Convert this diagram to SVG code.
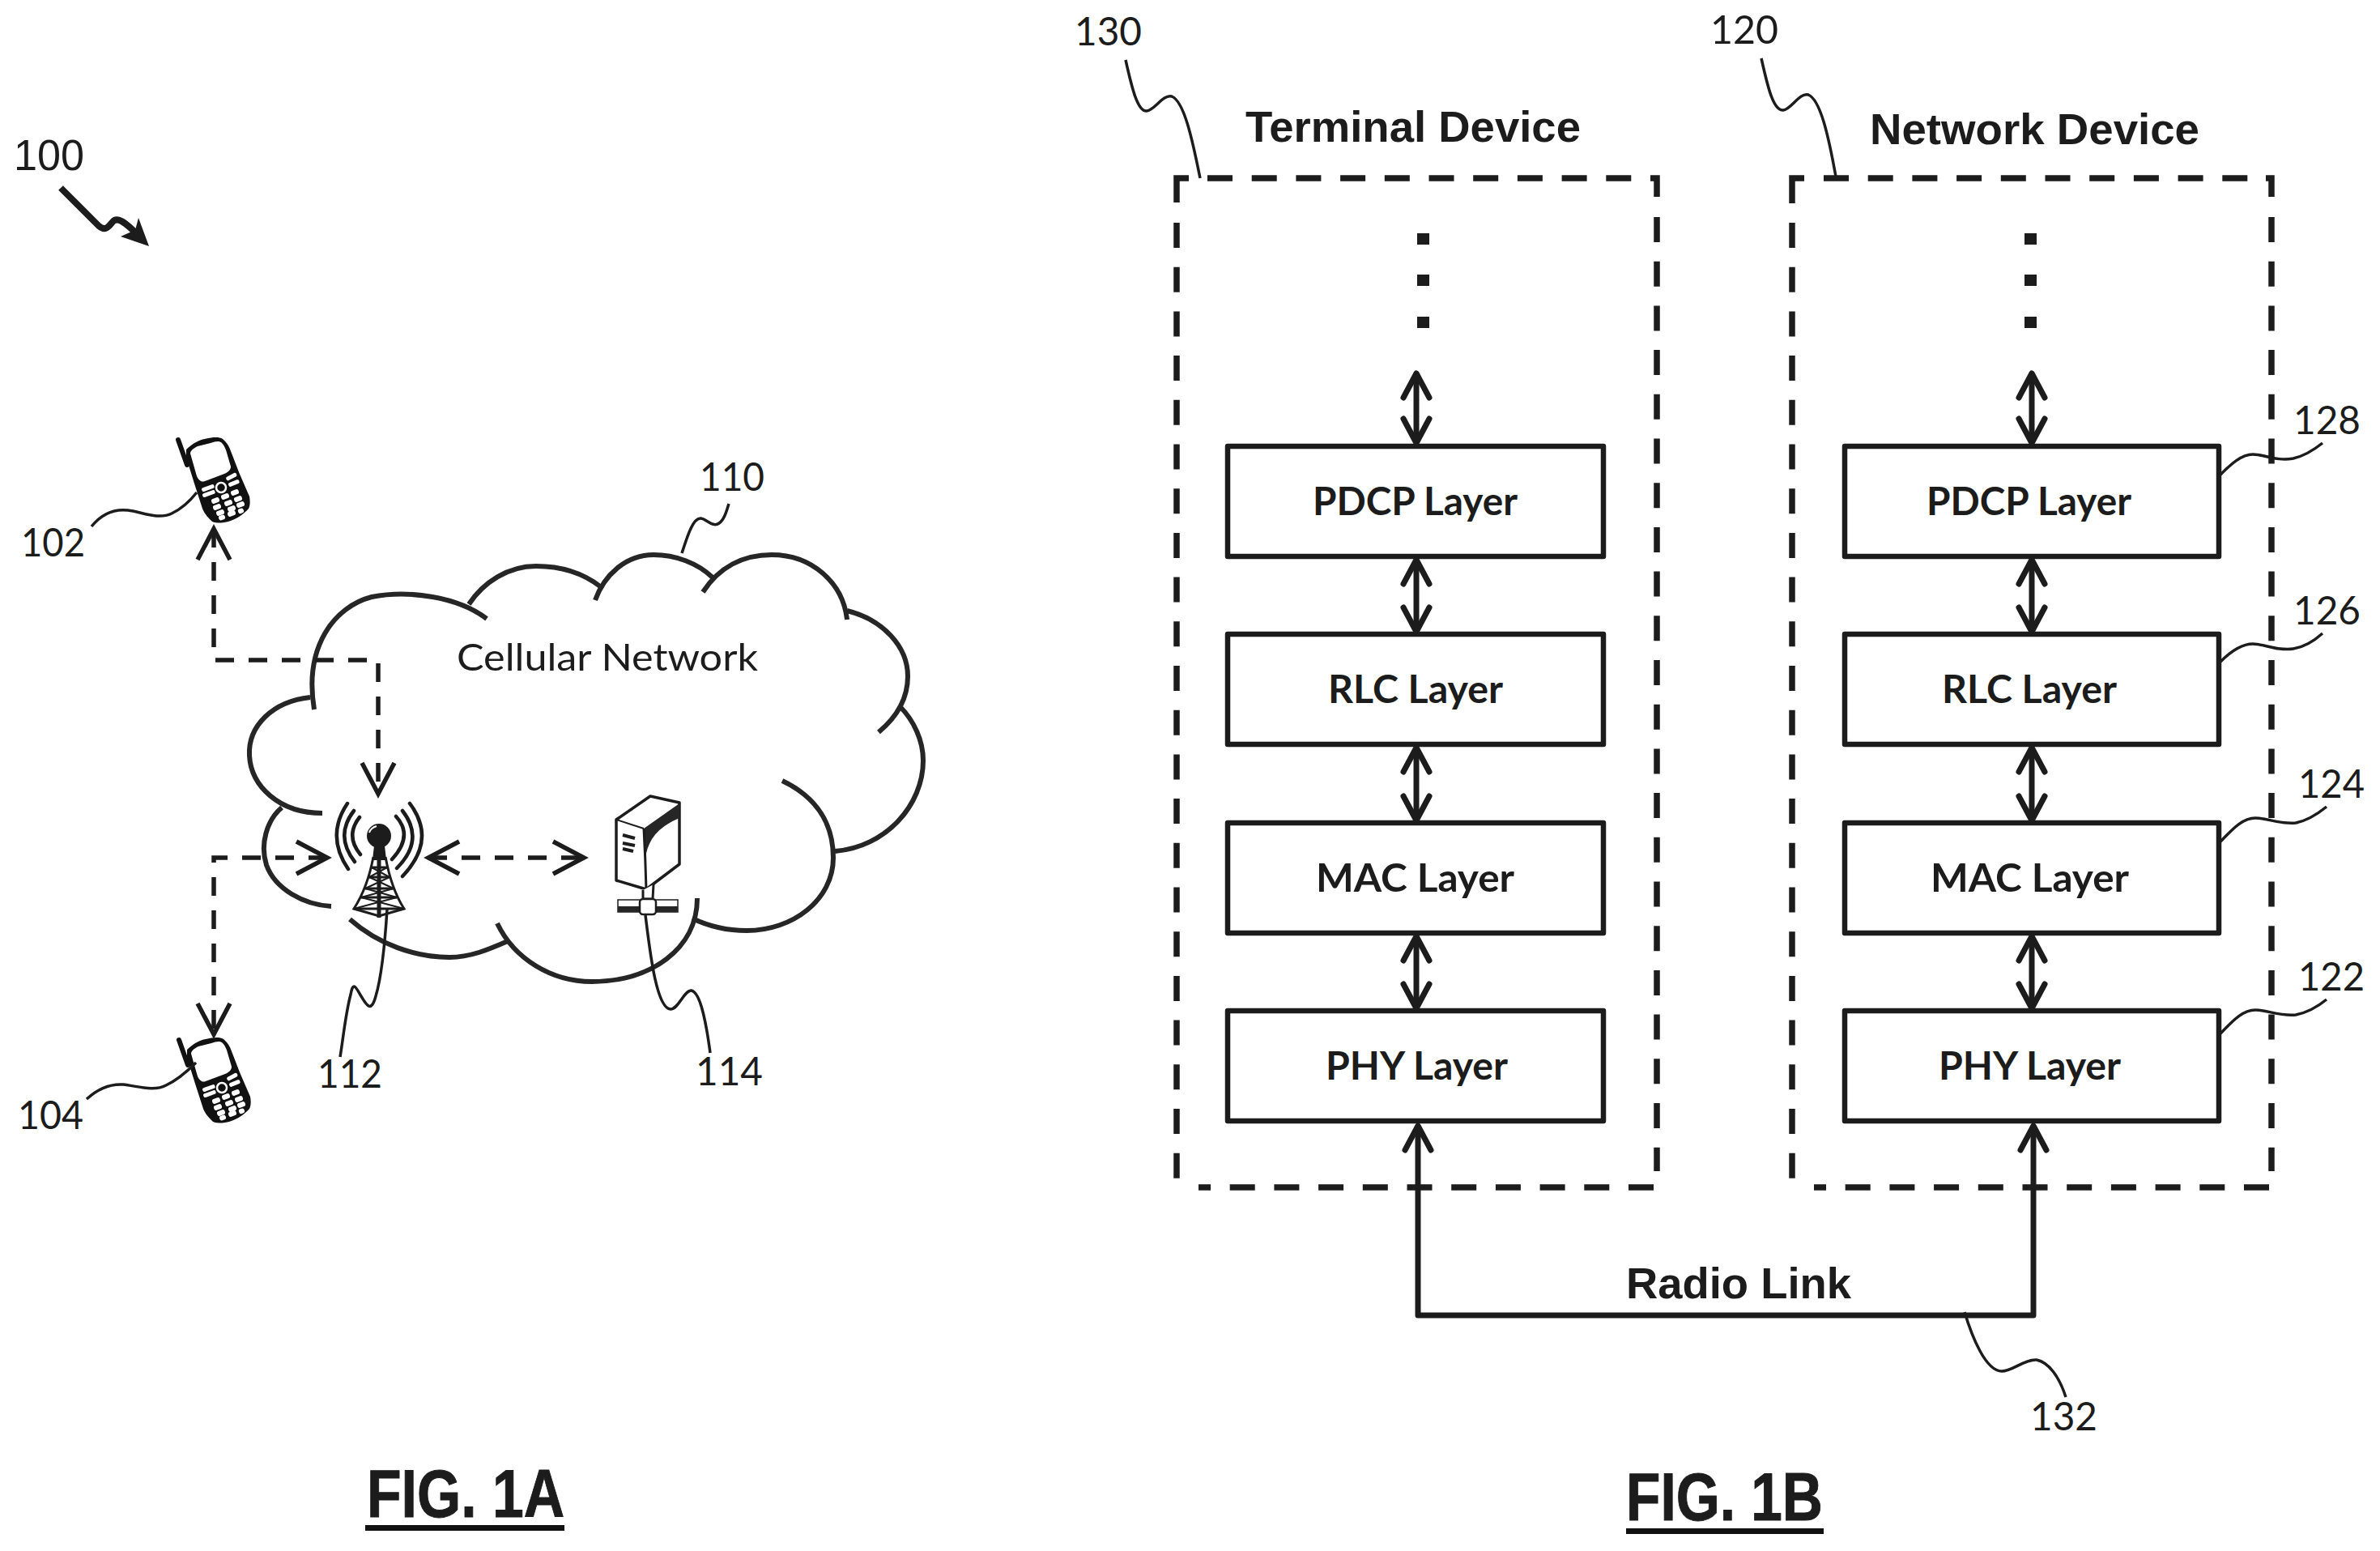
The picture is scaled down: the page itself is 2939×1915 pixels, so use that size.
<svg xmlns="http://www.w3.org/2000/svg" xmlns:xlink="http://www.w3.org/1999/xlink" width="2939" height="1915" viewBox="0 0 2939 1915">
<style>
text{fill:#1c1c1c}
.num{font-family:Lato,"Noto Sans",sans-serif;font-size:48px}
.net{font-family:Lato,"Noto Sans",sans-serif;font-size:46px}
.lay{font-family:Lato,"Noto Sans",sans-serif;font-weight:700;font-size:47px}
.head{font-family:"Liberation Sans",Arial,sans-serif;font-weight:700;font-size:53px}
.fig{font-family:"Liberation Sans",Arial,sans-serif;font-weight:700;font-size:84px;stroke:#1c1c1c;stroke-width:1}
.ln{fill:none;stroke:#1c1c1c;stroke-linejoin:round}
.cloud{fill:none;stroke:#262626;stroke-width:6}
.leader{fill:none;stroke:#1c1c1c;stroke-width:3.5}
.frame{fill:none;stroke:#1c1c1c;stroke-width:7.5}
.fd{stroke-dasharray:31 23.7}
.box{fill:none;stroke:#1c1c1c;stroke-width:6.5;stroke-linejoin:round}
.dot{fill:#1c1c1c}
.dar{fill:none;stroke:#1c1c1c;stroke-width:5.5;stroke-dasharray:23 18}
.sar{fill:none;stroke:#1c1c1c;stroke-width:7;marker-start:url(#bh);marker-end:url(#bh)}
.wk{fill:#fff}
</style>
<defs>
<marker id="bh" markerUnits="userSpaceOnUse" viewBox="-36 -22 42 44" refX="0" refY="0" markerWidth="42" markerHeight="44" orient="auto-start-reverse"><path d="M-30 -16L0 0L-30 16" fill="none" stroke="#1c1c1c" stroke-width="7" stroke-linecap="round" stroke-linejoin="round"/></marker>
<marker id="dh" markerUnits="userSpaceOnUse" viewBox="-44 -26 50 52" refX="0" refY="0" markerWidth="50" markerHeight="52" orient="auto-start-reverse"><path d="M-38 -20L0 0L-38 20" fill="none" stroke="#1c1c1c" stroke-width="5.5" stroke-linejoin="miter"/></marker>
<g id="phone-shape">
<path d="M220 543L231 574" fill="none" stroke="#111" stroke-width="6" stroke-linecap="round"/>
<path d="M230 555C237 548 246 543 253 542C262 540 270 539 275 542C280 546 283 551 285 557L295 583L308 613C309 619 309 624 307 628C300 636 287 644 277 645C269 646 263 646 260 642C255 637 252 633 250 628L240 597L230 565Z" fill="#111"/>
<path d="M235 560C235 556 240 553 244 551L260 547C266 545 271 544 274 547C277 550 279 555 280 559L285 576C285 580 282 583 277 585L253 594C248 596 245 592 243 588Z" fill="#fff"/>
<g class="wk">
<rect x="249" y="600" width="16" height="5" rx="2" transform="rotate(-20 257 603)"/>
<rect x="250" y="607" width="16" height="5" rx="2" transform="rotate(-20 258 610)"/>
<rect x="279" y="586" width="14" height="5" rx="2" transform="rotate(-28 286 589)"/>
<rect x="282" y="594" width="14" height="5" rx="2" transform="rotate(-22 289 597)"/>
<rect x="261" y="615" width="10" height="6" rx="2.5" transform="rotate(-20 266 618)"/>
<rect x="273" y="610" width="10" height="6" rx="2.5" transform="rotate(-20 278 613)"/>
<rect x="285" y="605" width="10" height="6" rx="2.5" transform="rotate(-20 290 608)"/>
<rect x="263" y="623" width="10" height="6" rx="2.5" transform="rotate(-20 268 626)"/>
<rect x="277" y="618" width="10" height="6" rx="2.5" transform="rotate(-20 282 621)"/>
<rect x="289" y="613" width="10" height="6" rx="2.5" transform="rotate(-20 294 616)"/>
<rect x="267" y="630" width="10" height="6" rx="2.5" transform="rotate(-20 272 633)"/>
<rect x="281" y="625" width="10" height="6" rx="2.5" transform="rotate(-20 286 628)"/>
<rect x="292" y="620" width="10" height="6" rx="2.5" transform="rotate(-20 297 623)"/>
<rect x="270" y="636" width="8" height="6" rx="2.5" transform="rotate(-20 274 639)"/>
<rect x="281" y="631" width="10" height="6" rx="2.5" transform="rotate(-20 286 634)"/>
<rect x="294" y="628" width="7" height="6" rx="2.5" transform="rotate(-20 297 631)"/>
</g>
<circle cx="273" cy="602" r="6" fill="#111" stroke="#fff" stroke-width="2.5"/>
</g>
</defs>
<rect width="2939" height="1915" fill="#fff"/>

<g id="ref-100">
<text x="17" y="210" font-family="'Liberation Sans',Arial,sans-serif" font-size="54" textLength="87" lengthAdjust="spacingAndGlyphs">100</text>
<path d="M75 232L122 279C130 286 134 280 139 274C144 268 152 271 174 294" class="ln" stroke-width="8"/>
<path d="M184 304L171 269L167 284L149 292Z" fill="#1c1c1c"/>
</g>

<g id="cloud-110">
<path class="cloud" d="M601 764C566 737 505 728 459 737C413 749 375 798 388 876"/>
<path class="cloud" d="M383 861C337 866 306 896 308 933C310 970 344 1004 398 1004"/>
<path class="cloud" d="M348 997C329 1013 321 1043 329 1068C340 1098 375 1117 409 1119"/>
<path class="cloud" d="M432 1135C467 1166 513 1182 555 1182C581 1182 604 1172 627 1162"/>
<path class="cloud" d="M614 1140C635 1184 681 1212 731 1212C803 1212 861 1172 861 1109"/>
<path class="cloud" d="M966 964C1010 985 1029 1019 1029 1059C1029 1111 979 1149 922 1149C899 1149 876 1144 855 1134"/>
<path class="cloud" d="M1031 1051C1094 1046 1140 994 1140 939C1140 915 1129 890 1111 872"/>
<path class="cloud" d="M1085 904C1109 884 1121 860 1121 835C1121 798 1090 765 1046 754"/>
<path class="cloud" d="M1046 765C1041 719 1002 685 953 685C918 685 888 700 868 731"/>
<path class="cloud" d="M880 713C861 695 834 685 807 685C773 685 746 710 735 741"/>
<path class="cloud" d="M741 724C719 707 692 699 662 699C627 699 597 719 579 746"/>
<text class="net" x="564" y="828" textLength="372" lengthAdjust="spacingAndGlyphs">Cellular Network</text>
<text class="num" x="864" y="606" textLength="80" lengthAdjust="spacingAndGlyphs">110</text>
</g>

<g id="phone-102">
<use xlink:href="#phone-shape" href="#phone-shape"/>
<text class="num" x="26" y="687" textLength="79" lengthAdjust="spacingAndGlyphs">102</text>
</g>
<g id="phone-104">
<use xlink:href="#phone-shape" href="#phone-shape" transform="translate(1 741)"/>
<text class="num" x="22" y="1394" textLength="81" lengthAdjust="spacingAndGlyphs">104</text>
</g>

<g id="tower-112">
<g fill="none" stroke="#1c1c1c" stroke-width="4.5" stroke-linecap="round">
<path d="M429 992Q402 1032 430 1073"/>
<path d="M437 1001Q413 1032 438 1064"/>
<path d="M444 1009Q426 1032 445 1055"/>
<path d="M506 992Q540 1037 497 1082"/>
<path d="M497 1001Q525 1037 490 1072"/>
<path d="M489 1008Q511 1032 484 1061"/>
</g>
<circle cx="468" cy="1032" r="15" fill="#1c1c1c"/>
<path d="M456 1028Q458 1022 465 1020" fill="none" stroke="#fff" stroke-width="2"/>
<path d="M462 1044H475L477 1062H460Z" fill="#1c1c1c"/>
<g fill="none" stroke="#1c1c1c" stroke-width="3">
<path d="M461 1058C456 1085 448 1105 437 1122L468 1131L499 1122C488 1105 481 1085 476 1058"/>
<path d="M468 1048V1133" stroke-width="5"/>
<path d="M458 1071L478 1071M456 1083L481 1083M451 1097L486 1097M446 1108L490 1108M437 1122L499 1122" stroke-width="3"/>
<path d="M459 1071L481 1083M478 1071L456 1083M456 1083L486 1097M481 1083L451 1097M451 1097L490 1108M486 1097L446 1108M446 1108L499 1122M490 1108L437 1122" stroke-width="2"/>
</g>
<text class="num" x="392" y="1343" textLength="80" lengthAdjust="spacingAndGlyphs">112</text>
</g>

<g id="server-114">
<path d="M761 1012L803 983L839 991V1067L798 1098L761 1087Z" fill="#fff" stroke="#1c1c1c" stroke-width="3.5" stroke-linejoin="round"/>
<path d="M795 1023L839 992V1010Q815 1020 805 1036Q798 1048 797 1060Z" fill="#262626"/>
<path d="M795 1023Q797 1060 798 1098" fill="none" stroke="#1c1c1c" stroke-width="3"/>
<path d="M761 1012L795 1023" fill="none" stroke="#1c1c1c" stroke-width="2"/>
<path d="M769 1031L784 1035M769 1041L784 1044M769 1048L782 1051" fill="none" stroke="#1c1c1c" stroke-width="4"/>
<path d="M794 1099V1110H806L807 1092" fill="#fff" stroke="#1c1c1c" stroke-width="3"/>
<rect x="763" y="1111" width="74" height="15" fill="#fff" stroke="#1c1c1c" stroke-width="1.5"/>
<rect x="763" y="1119" width="74" height="7" fill="#262626"/>
<rect x="790" y="1110" width="20" height="19" rx="4" fill="#fff" stroke="#1c1c1c" stroke-width="2.5"/>
<text class="num" x="859" y="1340" textLength="83" lengthAdjust="spacingAndGlyphs">114</text>
</g>

<g id="terminal-130">
<path class="frame" d="M1453 250V220H1468"/>
<path class="frame fd" d="M1491 220H2020"/>
<path class="frame" d="M2038 220H2046V243"/>
<path class="frame fd" d="M2046 268V1446"/>
<path class="frame fd" d="M1453 275V1466H1465"/>
<path class="frame fd" d="M2042 1466H1480"/>
<rect class="dot" x="1750" y="288" width="15" height="14"/>
<rect class="dot" x="1750" y="339" width="15" height="14"/>
<rect class="dot" x="1750" y="391" width="15" height="14"/>
<text class="head" x="1538" y="175" textLength="414" lengthAdjust="spacingAndGlyphs">Terminal Device</text>
<text class="num" x="1327" y="56" textLength="83" lengthAdjust="spacingAndGlyphs">130</text>
<g id="t-pdcp"><rect class="box" x="1516" y="551" width="464" height="136"/><text class="lay" x="1621" y="636" textLength="253" lengthAdjust="spacingAndGlyphs">PDCP Layer</text></g>
<g id="t-rlc"><rect class="box" x="1516" y="783" width="464" height="136"/><text class="lay" x="1640" y="868" textLength="216" lengthAdjust="spacingAndGlyphs">RLC Layer</text></g>
<g id="t-mac"><rect class="box" x="1516" y="1016" width="464" height="136"/><text class="lay" x="1625" y="1101" textLength="245" lengthAdjust="spacingAndGlyphs">MAC Layer</text></g>
<g id="t-phy"><rect class="box" x="1516" y="1248" width="464" height="136"/><text class="lay" x="1637" y="1333" textLength="225" lengthAdjust="spacingAndGlyphs">PHY Layer</text></g>
</g>

<g id="network-120">
<path class="frame" d="M2213 251V220H2228"/>
<path class="frame fd" d="M2252 220H2780"/>
<path class="frame" d="M2798 220H2805V243"/>
<path class="frame fd" d="M2805 268V1446"/>
<path class="frame fd" d="M2213 275V1466H2225"/>
<path class="frame fd" d="M2802 1466H2240"/>
<rect class="dot" x="2500" y="288" width="15" height="14"/>
<rect class="dot" x="2500" y="339" width="15" height="14"/>
<rect class="dot" x="2500" y="391" width="15" height="14"/>
<text class="head" x="2309" y="178" textLength="407" lengthAdjust="spacingAndGlyphs">Network Device</text>
<text class="num" x="2112" y="54" textLength="84" lengthAdjust="spacingAndGlyphs">120</text>
<g id="n-pdcp"><rect class="box" x="2278" y="551" width="462" height="136"/><text class="lay" x="2379" y="636" textLength="253" lengthAdjust="spacingAndGlyphs">PDCP Layer</text></g>
<g id="n-rlc"><rect class="box" x="2278" y="783" width="462" height="136"/><text class="lay" x="2398" y="868" textLength="216" lengthAdjust="spacingAndGlyphs">RLC Layer</text></g>
<g id="n-mac"><rect class="box" x="2278" y="1016" width="462" height="136"/><text class="lay" x="2384" y="1101" textLength="245" lengthAdjust="spacingAndGlyphs">MAC Layer</text></g>
<g id="n-phy"><rect class="box" x="2278" y="1248" width="462" height="136"/><text class="lay" x="2394" y="1333" textLength="225" lengthAdjust="spacingAndGlyphs">PHY Layer</text></g>
<text class="num" x="2832" y="536" textLength="83" lengthAdjust="spacingAndGlyphs">128</text>
<text class="num" x="2832" y="771" textLength="83" lengthAdjust="spacingAndGlyphs">126</text>
<text class="num" x="2838" y="985" textLength="82" lengthAdjust="spacingAndGlyphs">124</text>
<text class="num" x="2838" y="1223" textLength="82" lengthAdjust="spacingAndGlyphs">122</text>
</g>

<g id="connectors">
<path class="dar" d="M264 653V815H467V980" marker-start="url(#dh)" marker-end="url(#dh)"/>
<path class="dar" d="M404 1059H264V1277" marker-start="url(#dh)" marker-end="url(#dh)"/>
<path class="dar" d="M529 1059H721" marker-start="url(#dh)" marker-end="url(#dh)"/>
<path class="sar" d="M1749 461V547"/>
<path class="sar" d="M1749 691V780"/>
<path class="sar" d="M1749 923V1013"/>
<path class="sar" d="M1749 1156V1245"/>
<path class="sar" d="M2509 461V547"/>
<path class="sar" d="M2509 691V780"/>
<path class="sar" d="M2509 923V1013"/>
<path class="sar" d="M2509 1156V1245"/>
<path id="radio-link" d="M1751 1390V1624H2511V1390" fill="none" stroke="#1c1c1c" stroke-width="7" stroke-linejoin="round" marker-start="url(#bh)" marker-end="url(#bh)"/>
<path class="leader" d="M113 650C125 635 140 628 158 630C175 632 195 642 212 634C225 628 235 618 243 608"/>
<path class="leader" d="M107 1357C120 1345 135 1338 152 1339C170 1341 190 1348 205 1340C220 1333 232 1322 242 1312"/>
<path class="leader" d="M842 683C848 665 855 640 865 640C872 640 880 652 888 646C894 642 897 632 900 622"/>
<path class="leader" d="M478 1123C475 1170 470 1210 464 1230C458 1252 452 1240 446 1230C440 1220 436 1210 433 1228C427 1250 424 1280 420 1305"/>
<path class="leader" d="M797 1130C802 1170 810 1245 828 1246C838 1246 845 1222 854 1223C866 1226 873 1270 877 1300"/>
<path class="leader" d="M1390 74C1398 110 1405 138 1416 137C1426 136 1436 116 1447 119C1462 125 1472 170 1482 220"/>
<path class="leader" d="M2175 72C2183 108 2190 137 2202 136C2212 135 2222 114 2233 117C2248 123 2258 168 2267 218"/>
<path class="leader" d="M2742 586C2755 573 2768 561 2782 561C2796 561 2812 570 2832 566C2845 563 2858 555 2868 547"/>
<path class="leader" d="M2742 817C2755 804 2768 795 2782 795C2796 795 2812 804 2832 801C2845 799 2858 791 2868 782"/>
<path class="leader" d="M2741 1040C2755 1026 2768 1010 2785 1010C2800 1010 2815 1018 2835 1016C2850 1013 2862 1005 2873 996"/>
<path class="leader" d="M2741 1277C2755 1263 2768 1247 2785 1247C2800 1247 2815 1255 2835 1253C2850 1250 2862 1243 2873 1234"/>
<path class="leader" d="M2426 1620C2435 1650 2452 1693 2472 1693C2485 1693 2500 1678 2515 1679C2530 1682 2543 1700 2551 1725"/>
</g>

<g id="radio-link-labels">
<text class="head" x="2008" y="1603" font-size="54" textLength="278" lengthAdjust="spacingAndGlyphs">Radio Link</text>
<text class="num" x="2507" y="1766" textLength="83" lengthAdjust="spacingAndGlyphs">132</text>
</g>

<g id="fig-1a">
<text class="fig" x="453" y="1873" textLength="244" lengthAdjust="spacingAndGlyphs">FIG. 1A</text>
<rect x="451" y="1883" width="246" height="7" fill="#111"/>
</g>
<g id="fig-1b">
<text class="fig" x="2008" y="1877" textLength="243" lengthAdjust="spacingAndGlyphs">FIG. 1B</text>
<rect x="2008" y="1887" width="244" height="7" fill="#111"/>
</g>
</svg>
